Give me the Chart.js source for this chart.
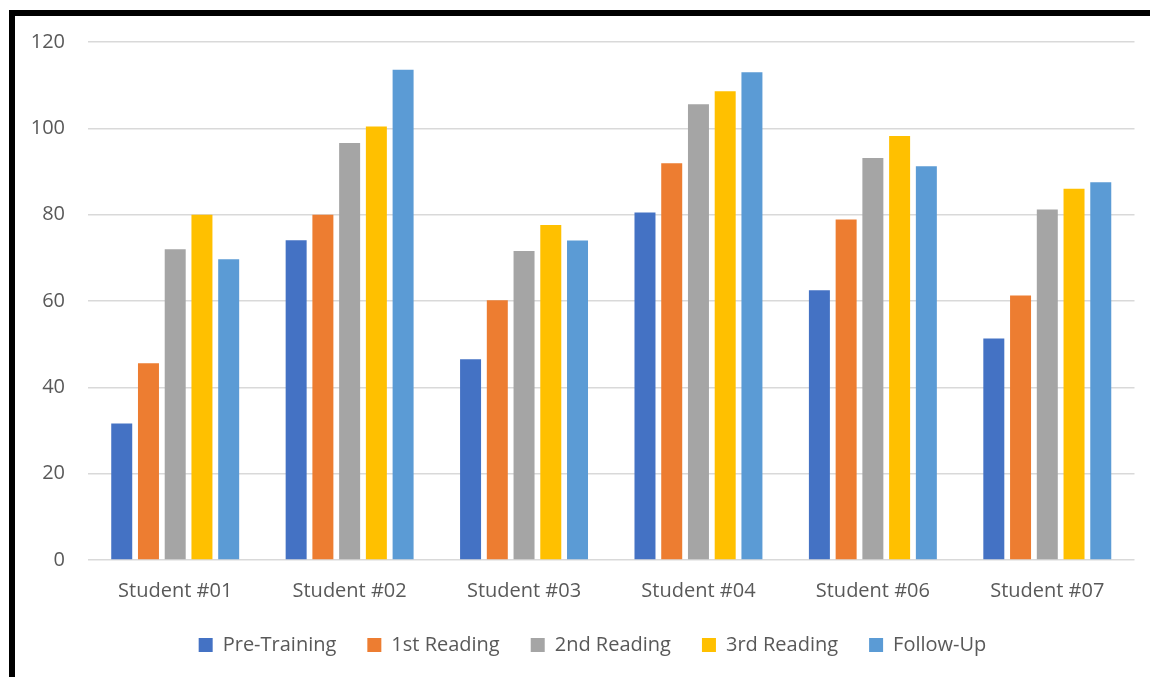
<!DOCTYPE html>
<html>
<head>
<meta charset="utf-8">
<script src="https://cdn.jsdelivr.net/npm/chart.js@4/dist/chart.umd.min.js"></script>
<style>
  html, body { margin: 0; padding: 0; background: #ffffff; }
  #wrap { position: relative; width: 1150px; height: 677px; overflow: hidden; }
  #frame {
    position: absolute; left: 9px; top: 10px; right: -20px; bottom: -20px;
    border-left: 6px solid #000; border-top: 6px solid #000;
    pointer-events: none;
  }
  canvas { position: absolute; left: 0; top: 0; }
</style>
</head>
<body>
<div id="wrap">
  <canvas id="chart" width="1150" height="677"></canvas>
  <div id="frame"></div>
</div>
<script>
// Reading scores per student across the training phases
const students = ['Student #01', 'Student #02', 'Student #03', 'Student #04', 'Student #06', 'Student #07'];
const seriesNames = ['Pre-Training', '1st Reading', '2nd Reading', '3rd Reading', 'Follow-Up'];
const preTraining = [31.6, 74.1, 46.5, 80.5, 62.5, 51.3];
const firstReading = [45.6, 80.0, 60.2, 91.9, 78.9, 61.3];
const secondReading = [72.0, 96.6, 71.6, 105.6, 93.1, 81.2];
const thirdReading = [80.0, 100.4, 77.6, 108.6, 98.2, 86.0];
const followUp = [69.7, 113.6, 74.0, 113.0, 91.2, 87.5];
const yTicks = [0, 20, 40, 60, 80, 100, 120];

const palette = ['#4472C4', '#ED7D31', '#A5A5A5', '#FFC000', '#5B9BD5'];
const seriesValues = [preTraining, firstReading, secondReading, thirdReading, followUp];

const FONT = '"Open Sans", "Noto Sans", sans-serif';
const TEXT = '#595959';

// Nudge the legend row so it sits centred under the frame rather than the canvas
const legendShift = {
  id: 'legendShift',
  afterLayout(chart) {
    const lg = chart.legend;
    if (!lg) return;
    const dx = 17.75, dy = -10;
    lg.left += dx; lg.right += dx;
    lg.top += dy; lg.bottom += dy;
  }
};

new Chart(document.getElementById('chart'), {
  type: 'bar',
  data: {
    labels: students,
    datasets: seriesNames.map((name, i) => ({
      label: name,
      data: seriesValues[i],
      backgroundColor: palette[i],
      borderWidth: 0,
      categoryPercentage: 0.7665,
      barPercentage: 0.785
    }))
  },
  plugins: [legendShift],
  options: {
    responsive: false,
    animation: false,
    layout: { padding: { left: 15, right: 15.5, top: 42, bottom: 2 } },
    plugins: {
      tooltip: { enabled: false },
      legend: {
        position: 'bottom',
        labels: {
          boxWidth: 14,
          boxHeight: 14,
          padding: 31,
          color: TEXT,
          font: { family: FONT, size: 20 }
        }
      }
    },
    scales: {
      x: {
        grid: { display: false },
        border: { display: false },
        ticks: {
          color: TEXT,
          padding: 11,
          font: { family: FONT, size: 20 }
        }
      },
      y: {
        min: 0,
        max: 120,
        afterFit: (scale) => { scale.width = 73; },
        afterBuildTicks: (scale) => { scale.ticks = yTicks.map(v => ({ value: v })); },
        grid: { color: '#D9D9D9', lineWidth: 1.4, drawTicks: false },
        border: { display: false },
        ticks: {
          color: TEXT,
          padding: 23,
          font: { family: FONT, size: 20 }
        }
      }
    }
  }
});
</script>
</body>
</html>
